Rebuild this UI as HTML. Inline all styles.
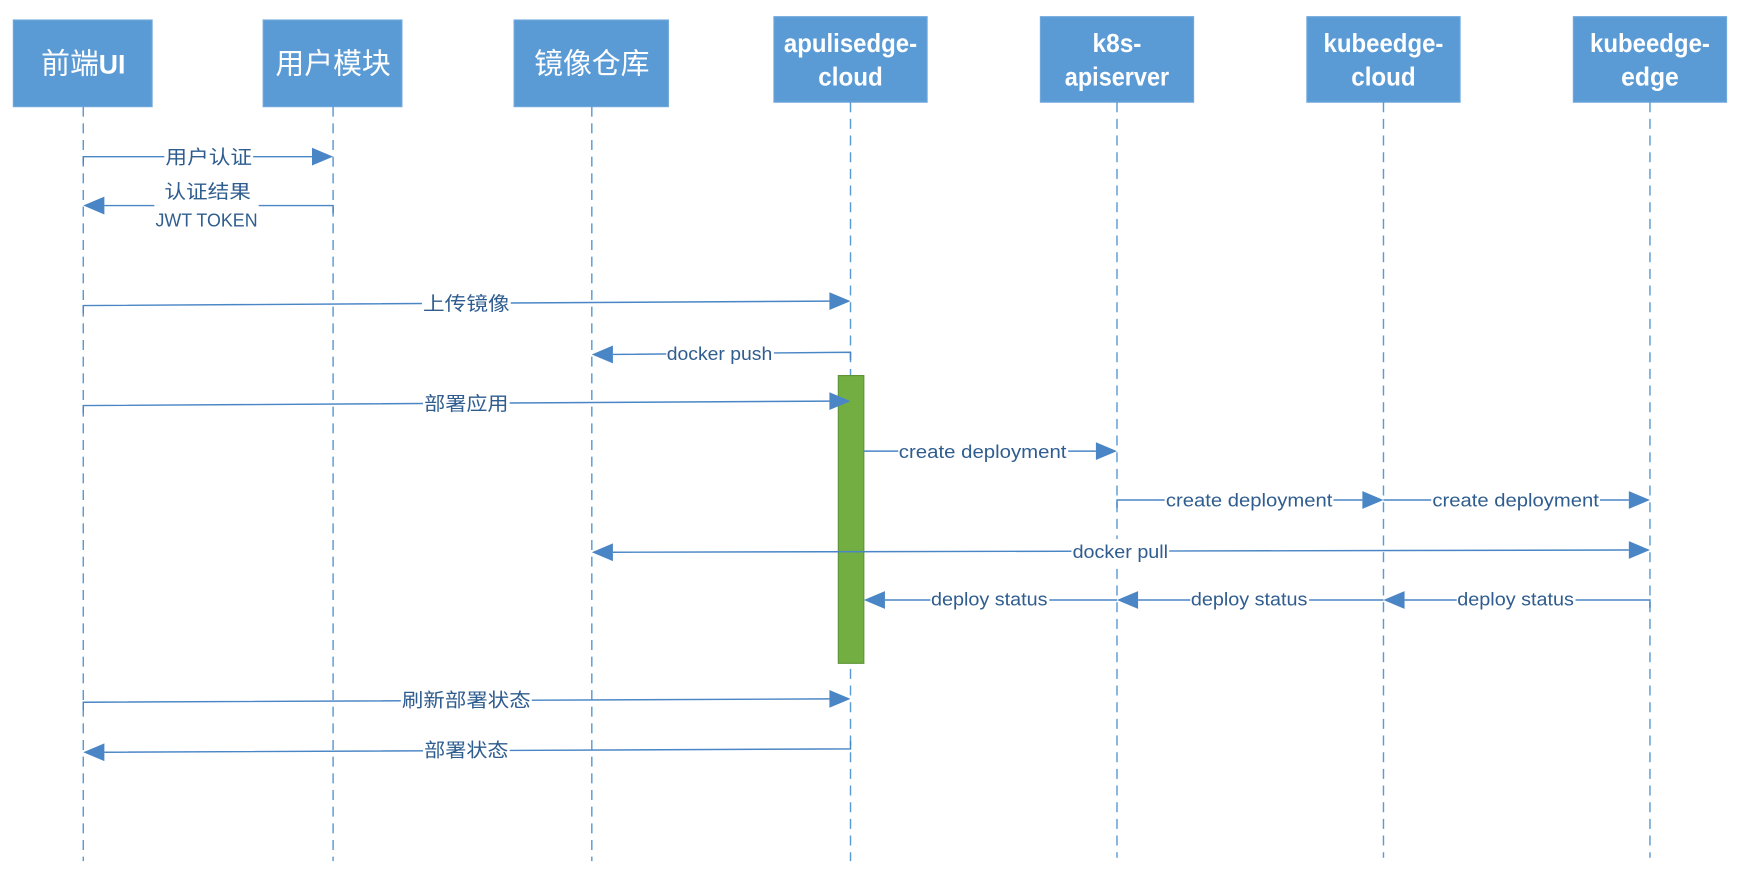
<!DOCTYPE html>
<html><head><meta charset="utf-8"><style>
html,body{margin:0;padding:0;background:#fff;}
svg{display:block;}
text{font-family:"Liberation Sans","Noto Sans CJK SC",sans-serif;}
.h{fill:#fff;font-weight:bold;font-size:23px;text-anchor:middle;}
.hc{fill:#fff;font-size:26px;text-anchor:middle;}
.l{fill:#2F5D8F;font-size:17px;text-anchor:middle;}
.ll{stroke:#5B9BD5;stroke-width:1.3;stroke-dasharray:9,6;fill:none;}
.m{stroke:#4A86C5;stroke-width:1.3;fill:none;}
.a{fill:#4A86C5;}
.bg{fill:#fff;}
</style></head><body>
<svg width="1741" height="880" viewBox="0 0 1568 792" preserveAspectRatio="none" xmlns="http://www.w3.org/2000/svg">
<g fill="#5B9BD5" stroke="#6FA8DC" stroke-width="1">
<rect x="12" y="18" width="125" height="78"/>
<rect x="237" y="18" width="125" height="78"/>
<rect x="463" y="18" width="139" height="78"/>
<rect x="697" y="15" width="138" height="77"/>
<rect x="937" y="15" width="138" height="77"/>
<rect x="1177" y="15" width="138" height="77"/>
<rect x="1417" y="15" width="138" height="77"/>
</g>
<text class="hc" x="75" y="66"><tspan>前端</tspan><tspan font-weight="bold" font-size="24">UI</tspan></text>
<text class="hc" x="300" y="66">用户模块</text>
<text class="hc" x="533" y="66">镜像仓库</text>
<text class="h" x="766" y="47" textLength="120" lengthAdjust="spacingAndGlyphs">apulisedge-</text><text class="h" x="766" y="77" textLength="58" lengthAdjust="spacingAndGlyphs">cloud</text>
<text class="h" x="1006" y="47" textLength="44" lengthAdjust="spacingAndGlyphs">k8s-</text><text class="h" x="1006" y="77" textLength="94" lengthAdjust="spacingAndGlyphs">apiserver</text>
<text class="h" x="1246" y="47" textLength="108" lengthAdjust="spacingAndGlyphs">kubeedge-</text><text class="h" x="1246" y="77" textLength="58" lengthAdjust="spacingAndGlyphs">cloud</text>
<text class="h" x="1486" y="47" textLength="108" lengthAdjust="spacingAndGlyphs">kubeedge-</text><text class="h" x="1486" y="77" textLength="52" lengthAdjust="spacingAndGlyphs">edge</text>
<g class="ll">
<line x1="75" y1="96" x2="75" y2="775"/><line x1="300" y1="96" x2="300" y2="775"/>
<line x1="533" y1="96" x2="533" y2="775"/><line x1="766" y1="92" x2="766" y2="775"/>
<line x1="1006" y1="92" x2="1006" y2="772"/><line x1="1246" y1="92" x2="1246" y2="772"/>
<line x1="1486" y1="92" x2="1486" y2="772"/>
</g>
<rect x="755" y="338" width="23" height="259" fill="#72AE42" stroke="#5E9436" stroke-width="1"/>
<g class="m">
<polyline points="75,148 75,141 281,141"/>
<polyline points="300,192 300,185 94,185"/>
<polyline points="75,282 75,275 747,271"/>
<polyline points="766,324 766,317 552,319"/>
<polyline points="75,372 75,365 747,361"/>
<line x1="778" y1="406" x2="987" y2="406"/>
<polyline points="1006,457 1006,450 1227,450"/>
<line x1="1246" y1="450" x2="1467" y2="450"/>
<line x1="552" y1="497" x2="1467" y2="495"/>
<polyline points="1486,547 1486,540 1265,540"/>
<line x1="1246" y1="540" x2="1025" y2="540"/>
<line x1="1006" y1="540" x2="797" y2="540"/>
<polyline points="75,639 75,632 747,629"/>
<polyline points="766,667 766,674 94,677"/>
</g>
<g class="a">
<polygon points="300,141 281,133 281,149"/>
<polygon points="75,185 94,177 94,193"/>
<polygon points="766,271 747,263 747,279"/>
<polygon points="533,319 552,311 552,327"/>
<polygon points="766,361 747,353 747,369"/>
<polygon points="1006,406 987,398 987,414"/>
<polygon points="1246,450 1227,442 1227,458"/>
<polygon points="1486,450 1467,442 1467,458"/>
<polygon points="533,497 552,489 552,505"/>
<polygon points="1486,495 1467,487 1467,503"/>
<polygon points="1246,540 1265,532 1265,548"/>
<polygon points="1006,540 1025,532 1025,548"/>
<polygon points="778,540 797,532 797,548"/>
<polygon points="766,629 747,621 747,637"/>
<polygon points="75,677 94,669 94,685"/>
</g>
<g>
<rect class="bg" x="148" y="130" width="80" height="22"/><text class="l" x="188" y="147" textLength="78" lengthAdjust="spacingAndGlyphs">用户认证</text>
<rect class="bg" x="139" y="160" width="94" height="46"/><text class="l" x="187" y="178" textLength="78" lengthAdjust="spacingAndGlyphs">认证结果</text><text class="l" x="186" y="204" textLength="92" lengthAdjust="spacingAndGlyphs">JWT TOKEN</text>
<rect class="bg" x="380" y="262" width="80" height="22"/><text class="l" x="420" y="279" textLength="78" lengthAdjust="spacingAndGlyphs">上传镜像</text>
<rect class="bg" x="600" y="307" width="97" height="22"/><text class="l" x="648" y="324" textLength="95" lengthAdjust="spacingAndGlyphs">docker push</text>
<rect class="bg" x="381" y="352" width="78" height="22"/><text class="l" x="420" y="369" textLength="76" lengthAdjust="spacingAndGlyphs">部署应用</text>
<rect class="bg" x="809" y="395" width="153" height="22"/><text class="l" x="885" y="412" textLength="151" lengthAdjust="spacingAndGlyphs">create deployment</text>
<rect class="bg" x="1049" y="439" width="152" height="22"/><text class="l" x="1125" y="456" textLength="150" lengthAdjust="spacingAndGlyphs">create deployment</text>
<rect class="bg" x="1289" y="439" width="152" height="22"/><text class="l" x="1365" y="456" textLength="150" lengthAdjust="spacingAndGlyphs">create deployment</text>
<rect class="bg" x="965" y="485" width="88" height="22"/><text class="l" x="1009" y="502" textLength="86" lengthAdjust="spacingAndGlyphs">docker pull</text>
<rect class="bg" x="838" y="529" width="107" height="22"/><text class="l" x="891" y="545" textLength="105" lengthAdjust="spacingAndGlyphs">deploy status</text>
<rect class="bg" x="1072" y="529" width="107" height="22"/><text class="l" x="1125" y="545" textLength="105" lengthAdjust="spacingAndGlyphs">deploy status</text>
<rect class="bg" x="1312" y="529" width="107" height="22"/><text class="l" x="1365" y="545" textLength="105" lengthAdjust="spacingAndGlyphs">deploy status</text>
<rect class="bg" x="361" y="619" width="118" height="22"/><text class="l" x="420" y="636" textLength="116" lengthAdjust="spacingAndGlyphs">刷新部署状态</text>
<rect class="bg" x="381" y="664" width="78" height="22"/><text class="l" x="420" y="681" textLength="76" lengthAdjust="spacingAndGlyphs">部署状态</text>
</g>
</svg>
</body></html>
